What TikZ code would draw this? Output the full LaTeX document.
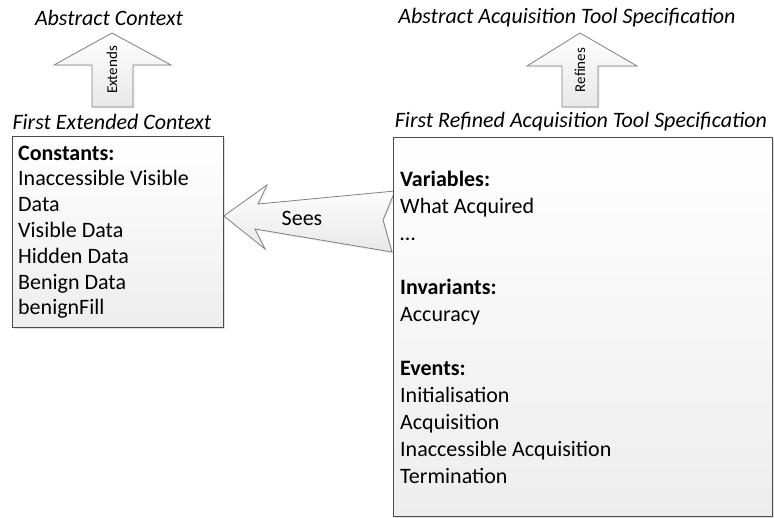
\documentclass[tikz,border=0pt]{standalone}
\usepackage{fontspec}
\setmainfont{Carlito}
\usetikzlibrary{shadows,calc}
\begin{document}
\begin{tikzpicture}[x=1pt,y=-1pt,
  boxstyle/.style={draw=black!70, line width=0.8pt, top color=white, bottom color=black!7,
    drop shadow={shadow xshift=2pt,shadow yshift=-2pt,opacity=0.25}, inner sep=0pt, anchor=north west},
  blockarrow/.style={draw=black!50, line width=0.8pt, top color=white, bottom color=black!9, line join=miter,
    drop shadow={shadow xshift=1.5pt,shadow yshift=-1.5pt,opacity=0.15}},
  titletext/.style={font=\fontsize{22}{26}\selectfont\itshape, inner sep=0pt},
  bodytext/.style={align=left, anchor=north west, inner sep=0pt},
  smalllabel/.style={font=\fontsize{15}{17}\selectfont, rotate=90, inner sep=0pt}]
\useasboundingbox (0,0) rectangle (774,518);

% titles
\node[titletext] (absctx) at (109,18) {Abstract Context};
\node[titletext] (absats) at (567,18) {Abstract Acquisition Tool Specification};
\node[titletext] (firstctx) at (112,122) {First Extended Context};
\node[titletext] (firstats) at (581,122) {First Refined Acquisition Tool Specification};

% up arrows
\draw[blockarrow] (92,107) -- (92,65) -- (54,65) -- (112,33) -- (171,65) -- (133,65) -- (133,107) -- cycle;
\node[smalllabel] (extlbl) at (112,70) {Extends};
\draw[blockarrow] (562,107) -- (562,66) -- (527,66) -- (580,33) -- (637,66) -- (598,66) -- (598,107) -- cycle;
\node[smalllabel] (reflbl) at (580,70) {Refines};

% boxes
\node[boxstyle, minimum width=211pt, minimum height=191pt] (ctxbox) at (12,136) {};
\node[bodytext, font=\fontsize{22}{25.8}\selectfont] (ctxtext) at ([xshift=6pt,yshift=-9.5pt]ctxbox.north west)
  {\textbf{Constants:}\\Inaccessible Visible\\Data\\Visible Data\\Hidden Data\\Benign Data\\benignFill};

% sees arrow
\coordinate (seestip) at ([yshift=-80pt]ctxbox.north east);
\draw[blockarrow] (seestip) -- (267,185) -- (258,204) -- (395,191) -- (383,220) -- (392,252) -- (255,229) -- (265,249) -- cycle;
\node[font=\fontsize{22}{26}\selectfont, inner sep=0pt] (seeslbl) at (302,218) {Sees};

\node[boxstyle, minimum width=379pt, minimum height=379pt] (atsbox) at (393,137) {};
\node[bodytext, font=\fontsize{22}{27}\selectfont] (atstext) at ([xshift=7pt,yshift=-33.5pt]atsbox.north west)
  {\textbf{Variables:}\\What Acquired\\\dots\\\mbox{}\\\textbf{Invariants:}\\Accuracy\\\mbox{}\\\textbf{Events:}\\Initialisation\\Acquisition\\Inaccessible Acquisition\\Termination};
\end{tikzpicture}
\end{document}
